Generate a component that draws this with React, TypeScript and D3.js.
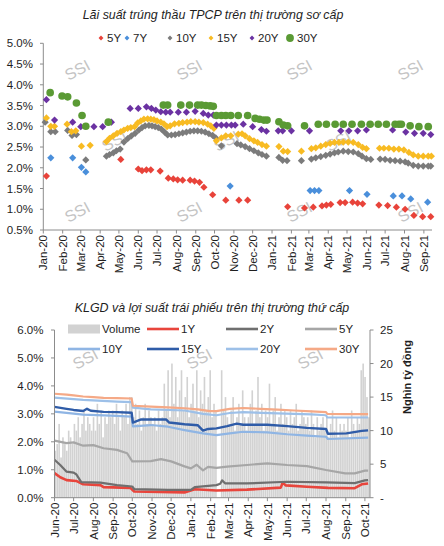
import * as d3 from "d3";

const FONT = "'Liberation Sans Narrow', 'Arial Narrow', 'Liberation Sans', Arial, sans-serif";

type Pt = [string, number];

// ---- primary market auction yields (top chart) ----
const FIVE_Y: Pt[] = [
  ["2020-01-06", 1.8], ["2020-05-04", 2.2], ["2020-06-01", 1.97], ["2020-06-07", 1.93], ["2020-06-14", 1.95],
  ["2020-06-21", 1.95], ["2020-07-06", 1.92], ["2020-07-19", 1.75], ["2020-07-27", 1.73], ["2020-08-03", 1.71],
  ["2020-08-11", 1.7], ["2020-08-23", 1.7], ["2020-08-30", 1.68], ["2020-09-07", 1.65], ["2020-09-14", 1.53],
  ["2020-09-28", 1.35], ["2020-10-19", 1.22], ["2020-11-09", 1.22], ["2020-11-23", 1.22], ["2021-01-26", 1.06],
  ["2021-02-22", 1.03], ["2021-03-08", 1.05], ["2021-03-22", 1.08], ["2021-03-29", 1.1], ["2021-04-05", 1.12],
  ["2021-04-20", 1.16], ["2021-04-28", 1.16], ["2021-05-10", 1.17], ["2021-05-18", 1.15], ["2021-05-26", 1.13],
  ["2021-06-21", 1.1], ["2021-07-05", 1.09], ["2021-07-19", 1.05], ["2021-08-02", 1.0], ["2021-08-16", 0.85],
  ["2021-08-30", 0.82], ["2021-09-12", 0.82],
];
const SEVEN_Y: Pt[] = [
  ["2020-01-13", 2.24], ["2020-02-17", 2.24], ["2020-03-02", 2.01], ["2020-03-09", 1.9], ["2020-10-26", 1.56],
  ["2021-03-03", 1.45], ["2021-03-10", 1.45], ["2021-03-17", 1.45], ["2021-05-05", 1.45], ["2021-06-02", 1.36],
  ["2021-07-14", 1.32], ["2021-07-28", 1.32], ["2021-08-11", 1.25], ["2021-09-07", 1.17],
];
const TEN_Y: Pt[] = [
  ["2020-01-04", 3.1], ["2020-01-13", 2.87], ["2020-01-20", 2.87], ["2020-02-09", 2.9], ["2020-02-16", 2.78],
  ["2020-02-23", 2.8], ["2020-03-09", 2.19], ["2020-04-11", 2.28], ["2020-04-16", 2.32], ["2020-04-22", 2.36],
  ["2020-04-27", 2.41], ["2020-05-03", 2.45], ["2020-05-09", 2.62], ["2020-05-15", 2.7], ["2020-05-21", 2.77],
  ["2020-05-27", 2.83], ["2020-06-02", 2.91], ["2020-06-07", 2.97], ["2020-06-12", 3.01], ["2020-06-18", 3.02],
  ["2020-06-23", 3.01], ["2020-06-28", 2.99], ["2020-07-03", 2.97], ["2020-07-08", 2.93], ["2020-07-13", 2.86],
  ["2020-07-18", 2.79], ["2020-07-24", 2.79], ["2020-07-30", 2.8], ["2020-08-05", 2.82], ["2020-08-11", 2.84],
  ["2020-08-17", 2.86], ["2020-08-23", 2.88], ["2020-08-29", 2.89], ["2020-09-04", 2.89], ["2020-09-10", 2.88],
  ["2020-09-16", 2.86], ["2020-09-22", 2.82], ["2020-09-28", 2.78], ["2020-10-03", 2.72], ["2020-10-12", 2.53],
  ["2020-11-06", 2.58], ["2020-11-12", 2.55], ["2020-11-19", 2.51], ["2020-11-26", 2.46], ["2020-12-03", 2.41],
  ["2020-12-10", 2.36], ["2020-12-16", 2.32], ["2020-12-23", 2.28], ["2021-01-12", 2.25], ["2021-01-18", 2.18],
  ["2021-01-25", 2.17], ["2021-02-17", 2.17], ["2021-03-05", 2.21], ["2021-03-12", 2.24], ["2021-03-20", 2.27],
  ["2021-03-28", 2.3], ["2021-04-04", 2.33], ["2021-04-11", 2.36], ["2021-04-17", 2.38], ["2021-04-25", 2.4],
  ["2021-05-03", 2.39], ["2021-05-11", 2.38], ["2021-05-19", 2.34], ["2021-05-25", 2.28], ["2021-06-01", 2.22],
  ["2021-06-08", 2.2], ["2021-06-23", 2.21], ["2021-07-01", 2.2], ["2021-07-09", 2.18], ["2021-07-17", 2.17],
  ["2021-07-25", 2.16], ["2021-08-02", 2.14], ["2021-08-07", 2.11], ["2021-08-15", 2.06], ["2021-08-23", 2.04],
  ["2021-08-31", 2.04], ["2021-09-08", 2.04], ["2021-09-12", 2.04],
];
const FIFTEEN_Y: Pt[] = [
  ["2020-01-06", 3.2], ["2020-01-13", 3.0], ["2020-01-19", 3.0], ["2020-02-08", 3.05], ["2020-02-15", 2.87],
  ["2020-02-22", 2.89], ["2020-03-02", 2.52], ["2020-03-16", 2.54], ["2020-04-11", 2.63], ["2020-04-16", 2.71],
  ["2020-04-22", 2.77], ["2020-04-28", 2.83], ["2020-05-04", 2.87], ["2020-05-09", 2.91], ["2020-05-15", 2.95],
  ["2020-05-20", 2.97], ["2020-05-26", 2.99], ["2020-05-31", 3.08], ["2020-06-05", 3.13], ["2020-06-10", 3.17],
  ["2020-06-16", 3.18], ["2020-06-21", 3.17], ["2020-06-26", 3.16], ["2020-07-01", 3.13], ["2020-07-07", 3.1],
  ["2020-07-12", 3.06], ["2020-07-17", 2.99], ["2020-07-22", 3.01], ["2020-07-29", 3.06], ["2020-08-05", 3.07],
  ["2020-08-11", 3.09], ["2020-08-18", 3.1], ["2020-08-24", 3.11], ["2020-08-31", 3.11], ["2020-09-06", 3.1],
  ["2020-09-13", 3.09], ["2020-09-20", 3.05], ["2020-09-25", 3.01], ["2020-09-30", 2.95], ["2020-10-04", 2.65],
  ["2020-10-12", 2.72], ["2020-10-19", 2.77], ["2020-10-27", 2.77], ["2020-11-08", 2.81], ["2020-11-14", 2.82],
  ["2020-11-19", 2.77], ["2020-11-26", 2.7], ["2020-12-03", 2.65], ["2020-12-09", 2.61], ["2020-12-16", 2.56],
  ["2020-12-23", 2.52], ["2021-01-12", 2.51], ["2021-01-19", 2.4], ["2021-01-26", 2.39], ["2021-02-17", 2.4],
  ["2021-03-05", 2.46], ["2021-03-12", 2.48], ["2021-03-20", 2.52], ["2021-03-28", 2.56], ["2021-04-04", 2.59],
  ["2021-04-11", 2.61], ["2021-04-18", 2.61], ["2021-04-25", 2.62], ["2021-05-03", 2.62], ["2021-05-11", 2.61],
  ["2021-05-19", 2.56], ["2021-05-26", 2.49], ["2021-06-01", 2.46], ["2021-06-22", 2.47], ["2021-06-29", 2.47],
  ["2021-07-07", 2.47], ["2021-07-15", 2.45], ["2021-07-23", 2.45], ["2021-07-31", 2.43], ["2021-08-08", 2.37],
  ["2021-08-15", 2.31], ["2021-08-23", 2.28], ["2021-08-31", 2.28], ["2021-09-08", 2.28], ["2021-09-13", 2.28],
];
const TWENTY_Y: Pt[] = [
  ["2020-01-06", 3.64], ["2020-01-19", 3.15], ["2020-02-17", 3.1], ["2020-03-01", 2.99], ["2020-03-22", 2.99],
  ["2020-04-05", 2.99], ["2020-04-19", 3.1], ["2020-05-19", 3.43], ["2020-06-01", 3.43], ["2020-06-14", 3.47],
  ["2020-06-22", 3.43], ["2020-06-29", 3.39], ["2020-07-07", 3.35], ["2020-07-15", 3.34], ["2020-07-22", 3.34],
  ["2020-08-04", 3.34], ["2020-08-17", 3.34], ["2020-08-31", 3.36], ["2020-09-13", 3.31], ["2020-09-21", 3.27],
  ["2020-09-29", 3.27], ["2020-10-04", 3.03], ["2020-10-12", 3.03], ["2020-10-20", 3.03], ["2020-10-28", 3.03],
  ["2020-11-03", 3.03], ["2020-11-16", 3.05], ["2020-12-01", 2.99], ["2020-12-15", 2.92], ["2020-12-23", 2.88],
  ["2021-01-11", 2.89], ["2021-01-18", 2.89], ["2021-02-01", 2.89], ["2021-03-02", 2.89], ["2021-04-21", 2.89],
  ["2021-05-04", 2.89], ["2021-05-18", 2.89], ["2021-06-01", 2.91], ["2021-07-13", 2.91], ["2021-08-03", 2.86],
  ["2021-08-17", 2.83], ["2021-08-31", 2.83], ["2021-09-12", 2.8],
];
const THIRTY_Y: Pt[] = [
  ["2020-01-12", 3.81], ["2020-01-31", 3.73], ["2020-02-09", 3.71], ["2020-02-23", 3.56], ["2020-03-03", 3.26],
  ["2020-03-09", 3.0], ["2020-04-14", 3.1], ["2020-07-11", 3.51], ["2020-07-18", 3.51], ["2020-08-08", 3.51],
  ["2020-08-22", 3.51], ["2020-09-04", 3.51], ["2020-09-10", 3.51], ["2020-09-17", 3.5], ["2020-09-24", 3.49],
  ["2020-09-29", 3.48], ["2020-10-04", 3.26], ["2020-10-12", 3.26], ["2020-10-19", 3.26], ["2020-10-27", 3.26],
  ["2020-11-08", 3.26], ["2020-11-23", 3.26], ["2020-12-05", 3.19], ["2020-12-12", 3.17], ["2020-12-19", 3.15],
  ["2020-12-24", 3.15], ["2021-01-12", 3.11], ["2021-01-19", 3.03], ["2021-01-26", 3.01], ["2021-02-22", 3.01],
  ["2021-03-16", 3.05], ["2021-03-29", 3.05], ["2021-04-12", 3.05], ["2021-04-25", 3.05], ["2021-05-09", 3.05],
  ["2021-05-24", 3.05], ["2021-06-07", 3.05], ["2021-06-20", 3.05], ["2021-07-03", 3.05], ["2021-07-17", 3.05],
  ["2021-07-23", 3.05], ["2021-07-27", 3.05], ["2021-08-10", 3.01], ["2021-08-24", 2.99], ["2021-09-08", 2.99],
];

// ---- secondary market yields (bottom chart) ----
const SEC_1Y: Pt[] = [
  ["2020-06-01", 0.88], ["2020-06-10", 0.73], ["2020-06-20", 0.63], ["2020-07-05", 0.6], ["2020-07-16", 0.48],
  ["2020-08-12", 0.45], ["2020-08-17", 0.38], ["2020-09-28", 0.35], ["2020-10-04", 0.22], ["2020-12-22", 0.19],
  ["2021-01-07", 0.3], ["2021-02-10", 0.26], ["2021-03-30", 0.29], ["2021-05-22", 0.36], ["2021-05-25", 0.54],
  ["2021-05-30", 0.44], ["2021-07-02", 0.39], ["2021-08-04", 0.35], ["2021-09-15", 0.34], ["2021-09-26", 0.48],
  ["2021-10-06", 0.51],
];
const SEC_2Y: Pt[] = [
  ["2020-06-01", 1.36], ["2020-06-10", 1.17], ["2020-06-20", 0.93], ["2020-07-01", 0.9], ["2020-07-05", 0.84],
  ["2020-07-13", 0.56], ["2020-08-12", 0.54], ["2020-09-07", 0.45], ["2020-10-01", 0.4], ["2020-10-04", 0.31],
  ["2020-11-26", 0.28], ["2021-01-01", 0.28], ["2021-01-07", 0.38], ["2021-02-10", 0.45], ["2021-02-16", 0.5],
  ["2021-02-19", 0.62], ["2021-02-24", 0.51], ["2021-03-30", 0.51], ["2021-06-01", 0.57], ["2021-08-01", 0.55],
  ["2021-09-15", 0.52], ["2021-10-01", 0.62], ["2021-10-06", 0.63],
];
const SEC_5Y: Pt[] = [
  ["2020-06-01", 2.04], ["2020-06-20", 1.95], ["2020-07-01", 1.98], ["2020-07-16", 1.86], ["2020-08-01", 1.88],
  ["2020-08-17", 1.77], ["2020-09-07", 1.71], ["2020-09-23", 1.59], ["2020-10-01", 1.3], ["2020-10-30", 1.31],
  ["2020-11-15", 1.38], ["2020-12-01", 1.3], ["2020-12-22", 1.12], ["2021-01-01", 1.05], ["2021-01-10", 1.18],
  ["2021-01-20", 0.98], ["2021-01-28", 1.1], ["2021-02-10", 1.07], ["2021-02-27", 1.11], ["2021-03-30", 1.17],
  ["2021-05-01", 1.23], ["2021-06-01", 1.17], ["2021-07-02", 1.13], ["2021-08-01", 0.99], ["2021-08-31", 0.87],
  ["2021-09-15", 0.87], ["2021-10-01", 0.97], ["2021-10-06", 0.97],
];
const SEC_10Y: Pt[] = [
  ["2020-06-01", 3.08], ["2020-07-16", 2.97], ["2020-09-07", 2.93], ["2020-09-30", 2.9], ["2020-10-02", 2.55],
  ["2020-10-30", 2.6], ["2020-11-26", 2.54], ["2020-12-22", 2.42], ["2021-01-20", 2.3], ["2021-02-10", 2.24],
  ["2021-03-03", 2.3], ["2021-03-24", 2.36], ["2021-05-01", 2.34], ["2021-06-01", 2.27], ["2021-07-02", 2.22],
  ["2021-08-01", 2.18], ["2021-08-04", 2.1], ["2021-10-06", 2.15],
];
const SEC_15Y: Pt[] = [
  ["2020-06-01", 3.25], ["2020-06-20", 3.18], ["2020-07-01", 3.14], ["2020-07-16", 3.1], ["2020-07-22", 3.18],
  ["2020-07-28", 3.11], ["2020-08-17", 3.07], ["2020-09-07", 3.06], ["2020-09-30", 3.04], ["2020-10-02", 2.69],
  ["2020-10-15", 2.8], ["2020-11-23", 2.8], ["2020-11-28", 2.69], ["2020-12-22", 2.63], ["2021-01-12", 2.59],
  ["2021-01-20", 2.4], ["2021-01-28", 2.46], ["2021-02-10", 2.48], ["2021-02-27", 2.56], ["2021-03-14", 2.65],
  ["2021-03-24", 2.61], ["2021-05-01", 2.61], ["2021-06-01", 2.56], ["2021-07-02", 2.5], ["2021-08-01", 2.46],
  ["2021-08-04", 2.29], ["2021-09-02", 2.3], ["2021-09-26", 2.39], ["2021-10-06", 2.41],
];
const SEC_20Y: Pt[] = [
  ["2020-06-01", 3.58], ["2020-07-16", 3.5], ["2020-09-07", 3.44], ["2020-09-30", 3.42], ["2020-10-02", 3.22],
  ["2020-10-30", 3.16], ["2020-12-22", 3.12], ["2021-01-20", 3.0], ["2021-02-10", 2.95], ["2021-03-03", 3.03],
  ["2021-03-24", 3.06], ["2021-05-17", 3.02], ["2021-07-09", 2.98], ["2021-08-01", 2.95], ["2021-08-03", 2.87],
  ["2021-10-06", 2.87],
];
const SEC_30Y: Pt[] = [
  ["2020-06-01", 3.72], ["2020-06-20", 3.69], ["2020-07-01", 3.66], ["2020-07-16", 3.62], ["2020-08-01", 3.6],
  ["2020-08-17", 3.57], ["2020-09-07", 3.56], ["2020-09-30", 3.55], ["2020-10-02", 3.29], ["2020-10-30", 3.26],
  ["2020-11-26", 3.23], ["2020-12-22", 3.2], ["2021-01-12", 3.16], ["2021-01-31", 3.1], ["2021-02-10", 3.1],
  ["2021-03-03", 3.18], ["2021-03-24", 3.21], ["2021-04-20", 3.18], ["2021-05-17", 3.15], ["2021-06-12", 3.12],
  ["2021-07-09", 3.09], ["2021-08-01", 3.06], ["2021-08-03", 3.0], ["2021-09-02", 2.99], ["2021-10-06", 2.99],
];

// trading volume (nghìn tỷ đồng), one value per 3-day block from 2020-06-01
const VOLUME_START = "2020-06-01";
const VOLUME_STEP_DAYS = 3;
const VOLUME: number[] = [
  7, 8, 11, 6, 9, 8, 7, 10, 9, 8,
  11, 10, 12, 9, 11, 13, 10, 12, 11, 10,
  12, 10, 14, 11, 13, 9, 12, 11, 13, 12,
  13, 11, 14, 12, 10, 13, 12, 14, 11, 15,
  15, 12, 14, 11, 13, 10, 12, 14, 11, 13,
  12, 11, 12, 10, 13, 11, 12, 17, 13, 19,
  12, 20, 14, 18, 12, 16, 19, 13, 15, 18,
  12, 14, 17, 13, 19, 12, 16, 14, 18, 13,
  15, 19, 12, 14, 13, 0, 0, 19, 13, 15,
  12, 11, 13, 15, 10, 12, 14, 11, 16, 12,
  10, 12, 14, 16, 11, 13, 18, 12, 14, 10,
  13, 12, 17, 11, 13, 15, 10, 12, 14, 11,
  13, 12, 10, 13, 11, 12, 14, 10, 11, 13,
  12, 11, 12, 10, 13, 11, 9, 12, 10, 11,
  12, 10, 12, 9, 11, 13, 10, 12, 9, 11,
  10, 11, 10, 12, 9, 13, 11, 10, 12, 11,
  19, 20, 18, 15, 12,
];

const TOP_Y_TICKS = [0.5, 1, 1.5, 2, 2.5, 3, 3.5, 4, 4.5, 5];
const BOT_Y_TICKS = [0, 1, 2, 3, 4, 5, 6];
const BOT_R_TICKS = [0, 5, 10, 15, 20, 25];

const parse = d3.timeParse("%Y-%m-%d") as (s: string) => Date;
const fmtMonth = d3.timeFormat("%b-%y");
const fmtPct = (v: number) => `${v.toFixed(1)}%`;

const TOP_SERIES = [
  { name: "5Y", data: FIVE_Y, color: "#e8433a", shape: "diamond" },
  { name: "7Y", data: SEVEN_Y, color: "#4a8fdb", shape: "diamond" },
  { name: "10Y", data: TEN_Y, color: "#7b7b7b", shape: "diamond" },
  { name: "15Y", data: FIFTEEN_Y, color: "#f8bb22", shape: "diamond" },
  { name: "20Y", data: TWENTY_Y, color: "#6b32a2", shape: "diamond" },
  { name: "30Y", data: THIRTY_Y, color: "#5a9a34", shape: "circle" },
];

const BOT_SERIES = [
  { name: "1Y", data: SEC_1Y, color: "#e8453c", width: 2.6 },
  { name: "2Y", data: SEC_2Y, color: "#6f6f6f", width: 2.2 },
  { name: "5Y", data: SEC_5Y, color: "#a6a6a6", width: 2.2 },
  { name: "10Y", data: SEC_10Y, color: "#8fb5e4", width: 2.2 },
  { name: "15Y", data: SEC_15Y, color: "#2f5ca8", width: 2.4 },
  { name: "20Y", data: SEC_20Y, color: "#9dc0e8", width: 2.2 },
  { name: "30Y", data: SEC_30Y, color: "#f5a986", width: 2.2 },
];

const VOL_COLOR = "#d2d2d2";
const AXIS = "#8c8c8c";
const TXT = "#1e1e1e";

// scales
const xTop = d3.scaleTime().domain([parse("2020-01-01"), parse("2021-09-14")]).range([43.3, 432]);
const yTop = d3.scaleLinear().domain([0.5, 5]).range([230, 43.3]);
const xBot = d3.scaleTime().domain([parse("2020-06-01"), parse("2021-10-09")]).range([54.5, 370]);
const yBot = d3.scaleLinear().domain([0, 6]).range([497.7, 330]);
const yVol = d3.scaleLinear().domain([0, 25]).range([497.7, 330]);

const diamond = d3.symbol(d3.symbolSquare, 26)() as string;
const diamondSmall = d3.symbol(d3.symbolSquare, 12)() as string;
const circle = d3.symbol(d3.symbolCircle, 46)() as string;
const circleLegend = d3.symbol(d3.symbolCircle, 48)() as string;

const Watermark = ({ x, y }: { x: number; y: number }) => (
  <text
    x={x}
    y={y}
    transform={`rotate(-28 ${x} ${y})`}
    textAnchor="middle"
    fontSize={16}
    fontFamily="'Liberation Sans', Arial, sans-serif"
    fill="#c4c4c4"
  >
    SSI
  </text>
);

const TopChart = () => {
  const months = d3.timeMonth.range(parse("2020-01-01"), parse("2021-09-02"));
  const legendX = [101, 127, 170, 211, 252, 290];
  return (
    <g>
      <text x={213} y={19} textAnchor="middle" fontSize={12.4} fontStyle="italic" fill={TXT}>
        Lãi suất trúng thầu TPCP trên thị trường sơ cấp
      </text>
      {TOP_SERIES.map((s, i) => (
        <g key={s.name} transform={`translate(${legendX[i]},38)`}>
          {s.shape === "circle" ? (
            <path d={circleLegend} fill={s.color} />
          ) : (
            <path d={diamondSmall} transform="rotate(45)" fill={s.color} />
          )}
          <text x={i === 5 ? 7 : 6} dy="0.36em" fontSize={11.5} fill={TXT}>
            {s.name}
          </text>
        </g>
      ))}
      {[[80, 75], [192, 75], [302, 75], [413, 75], [117, 146], [229, 146], [341, 146], [80, 217], [192, 217], [302, 217], [413, 217]].map(
        ([x, y], i) => <Watermark key={i} x={x} y={y} />
      )}
      {/* y axis */}
      <line x1={43.3} x2={43.3} y1={yTop(5)} y2={yTop(0.5)} stroke={AXIS} />
      {TOP_Y_TICKS.map((t) => (
        <g key={t} transform={`translate(0,${yTop(t)})`}>
          <line x1={40} x2={43.3} stroke={AXIS} />
          <text x={33} dy="0.35em" textAnchor="end" fontSize={11.5} fill={TXT}>
            {fmtPct(t)}
          </text>
        </g>
      ))}
      {/* x axis */}
      <line x1={43.3} x2={432} y1={230} y2={230} stroke={AXIS} />
      {months.map((m) => (
        <g key={+m} transform={`translate(${xTop(m)},230)`}>
          <line y1={0} y2={3.5} stroke={AXIS} />
          <text transform="rotate(-90)" x={-5} dy="0.36em" textAnchor="end" fontSize={11.5} fill={TXT}>
            {fmtMonth(m)}
          </text>
        </g>
      ))}
      {/* markers */}
      {TOP_SERIES.map((s) => (
        <g key={s.name} fill={s.color}>
          {s.data.map((d, j) => {
            const x = xTop(parse(d[0]));
            const y = yTop(d[1]);
            return s.shape === "circle" ? (
              <path key={j} d={circle} transform={`translate(${x},${y})`} />
            ) : (
              <path key={j} d={diamond} transform={`translate(${x},${y}) rotate(45)`} />
            );
          })}
        </g>
      ))}
    </g>
  );
};

const BottomChart = () => {
  const months = d3.timeMonth.range(parse("2020-06-01"), parse("2021-10-02"));
  const start = parse(VOLUME_START);
  const line = d3
    .line<Pt>()
    .x((d) => xBot(parse(d[0])))
    .y((d) => yBot(d[1]));
  const legendCols = [68, 147, 226, 305];
  const legendRows = [329, 349];
  const legendItems = [
    { name: "Volume", color: VOL_COLOR, bar: true },
    ...["1Y", "2Y", "5Y", "10Y", "15Y", "20Y", "30Y"].map((n) => {
      const s = BOT_SERIES.find((b) => b.name === n)!;
      return { name: n, color: s.color, bar: false };
    }),
  ];
  return (
    <g>
      <text x={212} y={312} textAnchor="middle" fontSize={12.4} fontStyle="italic" fill={TXT}>
        KLGD và lợi suất trái phiếu trên thị trường thứ cấp
      </text>
      {[[88, 364], [202, 364], [313, 364]].map(([x, y], i) => (
        <Watermark key={i} x={x} y={y} />
      ))}
      {/* volume bars */}
      <g fill={VOL_COLOR}>
        {VOLUME.map((v, i) => {
          const d0 = d3.timeDay.offset(start, i * VOLUME_STEP_DAYS);
          const d1 = d3.timeDay.offset(start, (i + 1) * VOLUME_STEP_DAYS);
          const x0 = xBot(d0);
          const w = xBot(d1) - x0 - 0.3;
          return <rect key={i} x={x0} y={yVol(v)} width={w} height={yVol(0) - yVol(v)} />;
        })}
      </g>
      {/* yield lines */}
      {BOT_SERIES.map((s) => (
        <path key={s.name} d={line(s.data) as string} fill="none" stroke={s.color} strokeWidth={s.width} strokeLinejoin="round" />
      ))}
      {/* legend */}
      {legendItems.map((it, i) => {
        const x = legendCols[i % 4];
        const y = legendRows[Math.floor(i / 4)];
        return (
          <g key={it.name}>
            {it.bar ? (
              <rect x={x} y={y - 4.5} width={32} height={9} fill={it.color} />
            ) : (
              <line x1={x} x2={x + 32} y1={y} y2={y} stroke={it.color} strokeWidth={2.6} />
            )}
            <text x={x + 34} y={y} dy="0.36em" fontSize={11.5} fill={TXT}>
              {it.name}
            </text>
          </g>
        );
      })}
      {/* left axis */}
      <line x1={54.5} x2={54.5} y1={330} y2={497.7} stroke={AXIS} />
      {BOT_Y_TICKS.map((t) => (
        <g key={t} transform={`translate(0,${yBot(t)})`}>
          <line x1={51} x2={54.5} stroke={AXIS} />
          <text x={43.5} dy="0.35em" textAnchor="end" fontSize={11.5} fill={TXT}>
            {fmtPct(t)}
          </text>
        </g>
      ))}
      {/* right axis */}
      <line x1={370} x2={370} y1={330} y2={497.7} stroke={AXIS} />
      {BOT_R_TICKS.map((t) => (
        <g key={t} transform={`translate(370,${yVol(t)})`}>
          <line x1={0} x2={3.5} stroke={AXIS} />
          <text x={10} dy="0.35em" fontSize={11.5} fill={TXT}>
            {t === 0 ? "-" : t}
          </text>
        </g>
      ))}
      <text
        transform="translate(407,377) rotate(-90)"
        textAnchor="middle"
        dy="0.35em"
        fontSize={11}
        fontWeight="bold"
        fill={TXT}
      >
        Nghìn tỷ đồng
      </text>
      {/* x axis */}
      <line x1={54.5} x2={370} y1={497.7} y2={497.7} stroke={AXIS} />
      {months.map((m) => (
        <g key={+m} transform={`translate(${xBot(m)},497.7)`}>
          <line y1={0} y2={3.5} stroke={AXIS} />
          <text transform="rotate(-90)" x={-5} dy="0.36em" textAnchor="end" fontSize={11.5} fill={TXT}>
            {fmtMonth(m)}
          </text>
        </g>
      ))}
    </g>
  );
};

export default function App() {
  return (
    <svg
      width={444}
      height={546}
      style={{ position: "absolute", left: 0, top: 0, background: "#fff" }}
      fontFamily={FONT}
    >
      <rect width={444} height={546} fill="#fff" />
      <TopChart />
      <BottomChart />
    </svg>
  );
}
